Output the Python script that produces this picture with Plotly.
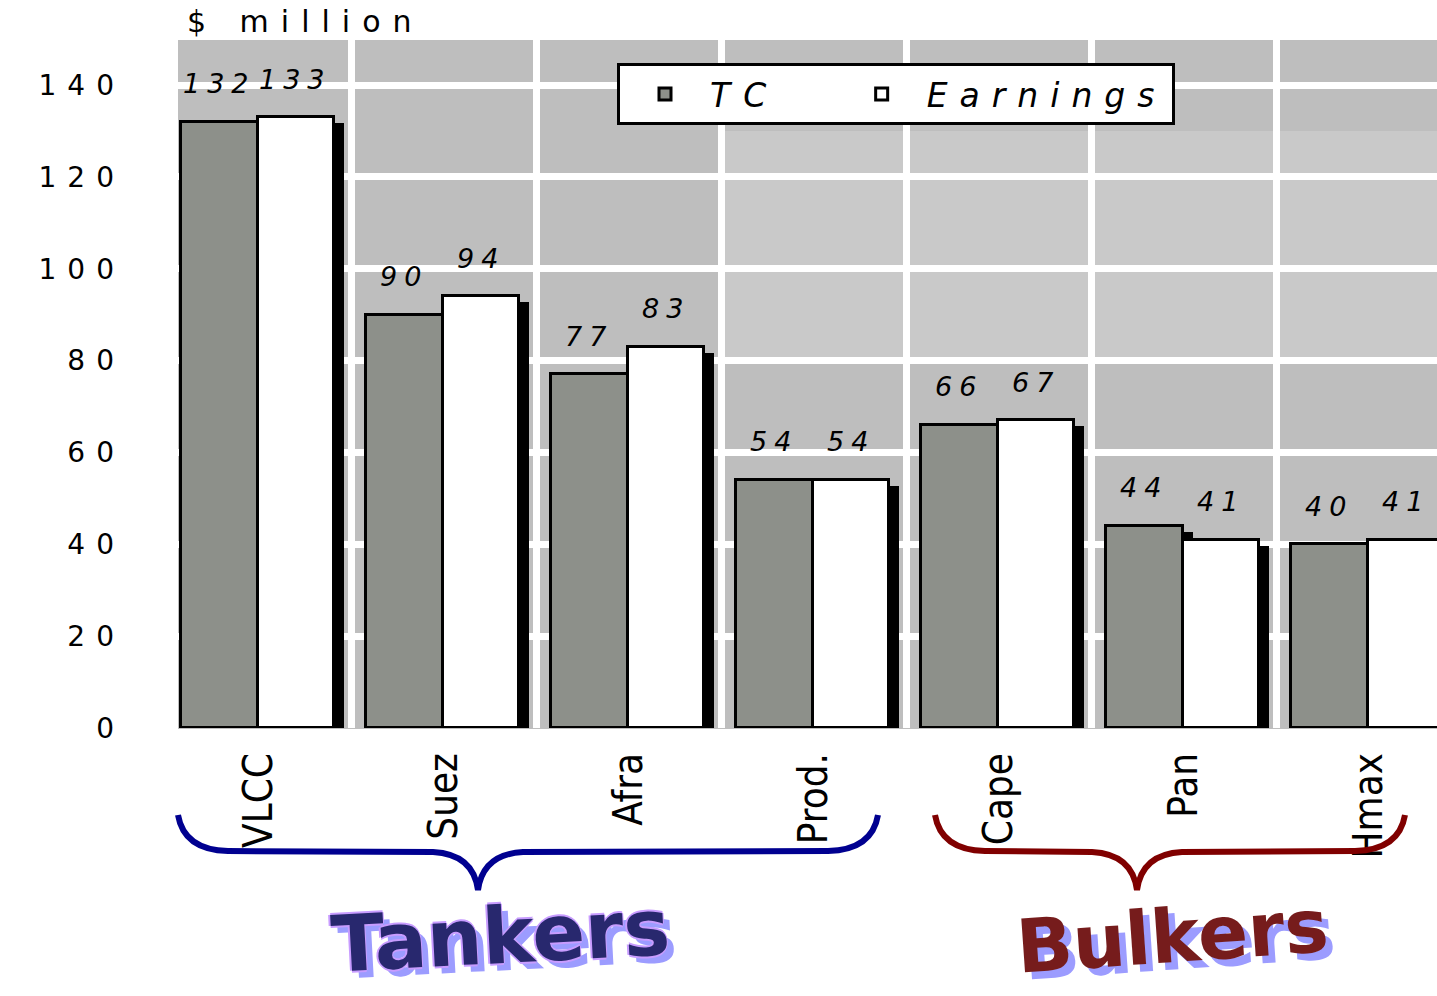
import plotly.graph_objects as go

categories = ["VLCC", "Suez", "Afra", "Prod.", "Cape", "Pan", "Hmax"]
tc_values = [132, 90, 77, 54, 66, 44, 40]
earnings_values = [133, 94, 83, 54, 67, 41, 41]
y_ticks = [0, 20, 40, 60, 80, 100, 120, 140]
series_names = ["TC", "Earnings"]
group_names = ["Tankers", "Bulkers"]

W, H = 1437, 996
L, R, T, B = 178, 0, 40, 268
X_RANGE = [-0.44, 6.365]
Y_RANGE = [0, 149.8]

TC_COLOR = "#8D908A"
GRID_BG = "#BEBEBE"
FONT = "DejaVu Sans"

TC_OFF, EA_OFF, BW = -0.425, -0.01, 0.415
SH_DX, SH_DY = 0.054, 1.3


def sp(text, ls):
    return f'<span style="letter-spacing:{ls}px">{text}</span>'


def cpx(px):
    return (px - L) / (W - L - R)


def cpy(py):
    return (H - B - py) / (H - T - B)


xs = list(range(len(categories)))
fig = go.Figure()

# drop shadows
fig.add_trace(go.Bar(x=xs, y=[v - SH_DY for v in tc_values], offset=TC_OFF + SH_DX, width=BW,
                     marker=dict(color="black", line=dict(width=0)), showlegend=False, hoverinfo="skip"))
fig.add_trace(go.Bar(x=xs, y=[v - SH_DY for v in earnings_values], offset=EA_OFF + SH_DX, width=BW,
                     marker=dict(color="black", line=dict(width=0)), showlegend=False, hoverinfo="skip"))
# main bars
fig.add_trace(go.Bar(x=xs, y=tc_values, offset=TC_OFF, width=BW,
                     name=sp(series_names[0], 13) + "\u00a0" * 5,
                     marker=dict(color=TC_COLOR, line=dict(color="black", width=3))))
fig.add_trace(go.Bar(x=xs, y=earnings_values, offset=EA_OFF, width=BW,
                     name=sp(series_names[1], 12),
                     marker=dict(color="white", line=dict(color="black", width=3))))

annotations = []
for i in xs:
    for vals, off in ((tc_values, TC_OFF), (earnings_values, EA_OFF)):
        annotations.append(dict(
            x=i + off + BW / 2, y=vals[i], xref="x", yref="y", yshift=38,
            xanchor="center", yanchor="middle",
            text=sp(str(vals[i]), 7), showarrow=False,
            font=dict(family=FONT, size=27, color="black", style="italic")))

annotations.append(dict(x=cpx(185), y=cpy(22), xref="paper", yref="paper", xanchor="left",
                        yanchor="middle", text=sp("$ million", 12), showarrow=False,
                        font=dict(family=FONT, size=30, color="black")))

for name, cx, cy, col, size, ang in ((group_names[0], 500, 936, "#28286E", 78, -3),
                                     (group_names[1], 1172, 936, "#761C1C", 74, -4)):
    common = dict(xref="paper", yref="paper", showarrow=False, textangle=ang,
                  xanchor="center", yanchor="middle", text=f"<b>{name}</b>")
    annotations.append(dict(x=cpx(cx + 7), y=cpy(cy + 7),
                            font=dict(family=FONT, size=size, color="#9C9CFF"), **common))
    if name == "Tankers":
        for dx, dy in ((-2, 0), (2, 0), (0, -2), (0, 2)):
            annotations.append(dict(x=cpx(cx + dx), y=cpy(cy + dy),
                                    font=dict(family=FONT, size=size, color="#C89CFF"), **common))
    annotations.append(dict(x=cpx(cx), y=cpy(cy),
                            font=dict(family=FONT, size=size, color=col), **common))


def brace(x0, xm, x1, col):
    pts = lambda px, py: f"{cpx(px):.5f},{cpy(py):.5f}"
    yt, ym, yb = 815, 852, 890
    d = (f"M {pts(x0, yt)} Q {pts(x0 + 6, ym - 2)} {pts(x0 + 50, ym - 1)} "
         f"L {pts(xm - 45, ym)} Q {pts(xm - 5, ym + 2)} {pts(xm, yb)} "
         f"Q {pts(xm + 5, ym + 2)} {pts(xm + 45, ym)} "
         f"L {pts(x1 - 50, ym - 1)} Q {pts(x1 - 6, ym - 2)} {pts(x1, yt)}")
    return dict(type="path", path=d, xref="paper", yref="paper",
                line=dict(color=col, width=6), layer="above")


shapes = [
    dict(type="rect", xref="x", yref="y", x0=2.5, x1=X_RANGE[1], y0=80, y1=130,
         fillcolor="#C9C9C9", line=dict(width=0), layer="below"),
    brace(178, 478, 878, "#000090"),
    brace(935, 1137, 1405, "#800000"),
]

fig.update_layout(
    template="none",
    width=W, height=H,
    margin=dict(l=L, r=R, t=T, b=B, pad=0, autoexpand=False),
    paper_bgcolor="white", plot_bgcolor=GRID_BG,
    barmode="overlay",
    bargap=0,
    showlegend=True,
    legend=dict(orientation="h", x=cpx(617), y=cpy(63), xanchor="left", yanchor="top",
                bgcolor="white", bordercolor="black", borderwidth=3,
                font=dict(family=FONT, size=33, color="black", style="italic"),
                itemwidth=80, traceorder="normal"),
    xaxis=dict(range=X_RANGE, tickmode="array", tickvals=xs, ticktext=categories,
               tickangle=-90, showgrid=False, zeroline=False, showline=False, ticks="",
               automargin=False, ticklabelstandoff=16,
               tickfont=dict(family="Liberation Sans Narrow, DejaVu Sans Condensed, sans-serif",
                             size=40, color="black"),
               minor=dict(tickmode="array", tickvals=[i + 0.5 for i in xs[:-1]], showgrid=True,
                          gridcolor="white", gridwidth=7, ticks="")),
    yaxis=dict(range=Y_RANGE, tickmode="array", tickvals=y_ticks,
               ticktext=[sp(str(v), 11) for v in y_ticks], showgrid=True, gridcolor="white",
               gridwidth=7, zeroline=True, zerolinecolor=GRID_BG, zerolinewidth=1,
               showline=False, ticks="", ticklabelstandoff=52, automargin=False,
               tickfont=dict(family=FONT, size=28, color="black")),
    annotations=annotations,
    shapes=shapes,
)

fig.write_html("out.html", config={"displayModeBar": False},
               post_script="document.body.style.margin='0';document.body.style.overflow='hidden';")
